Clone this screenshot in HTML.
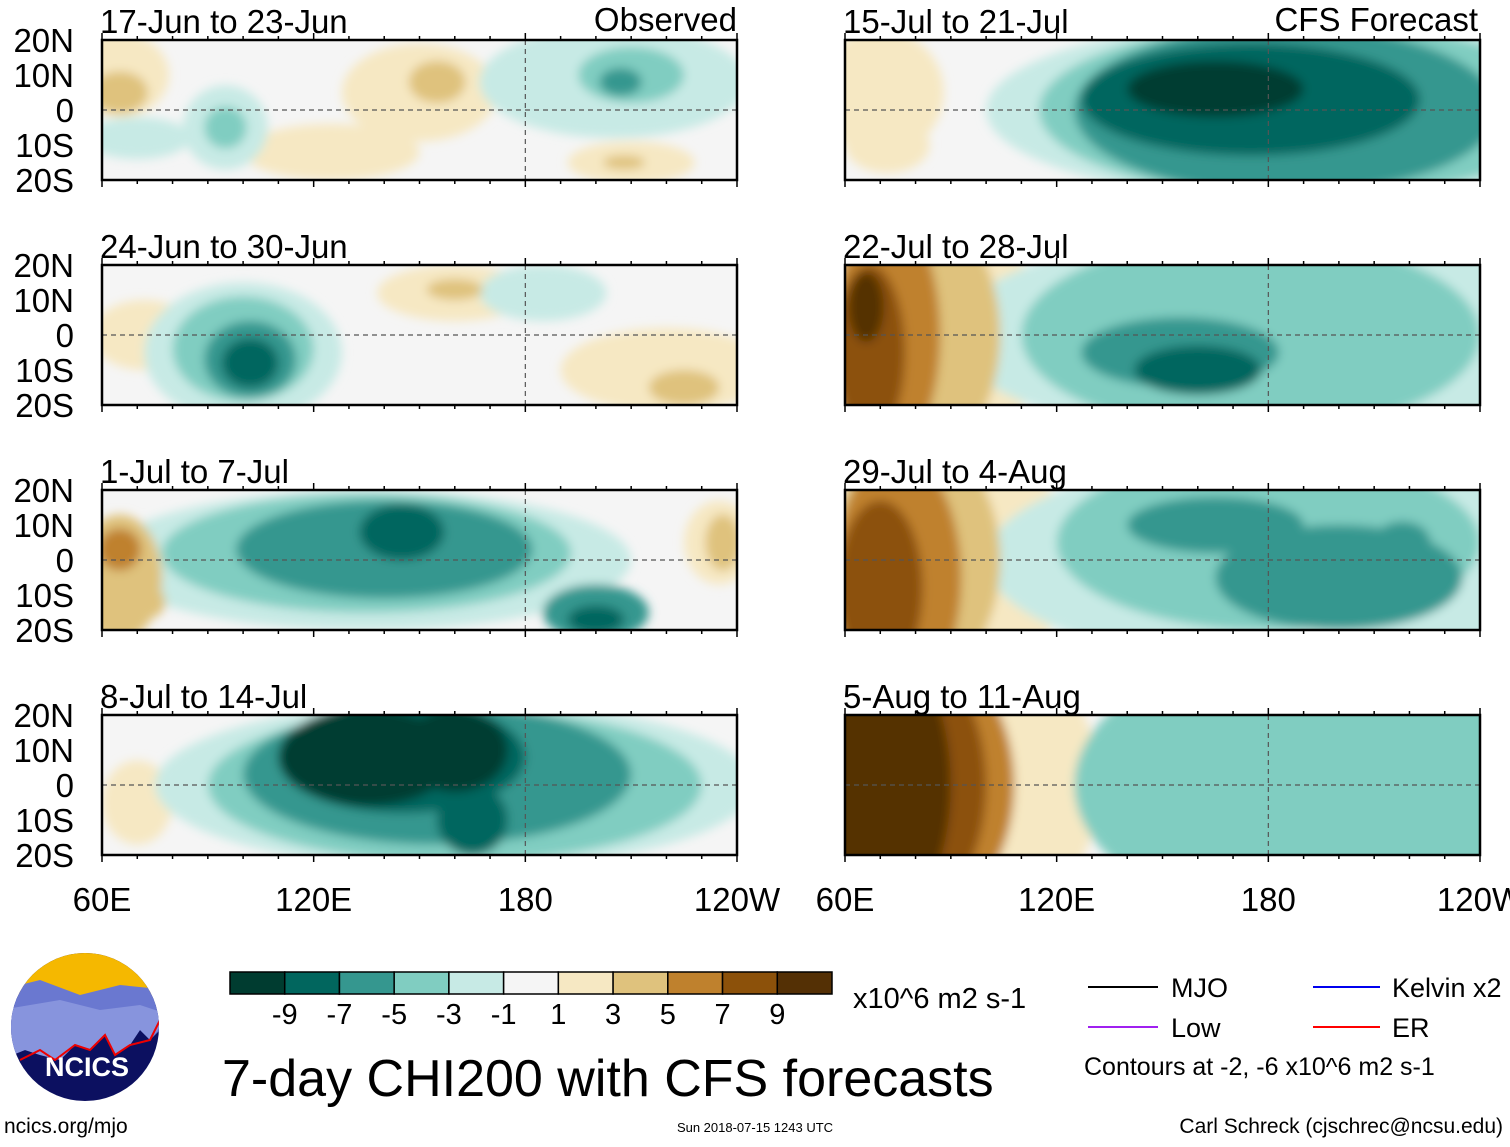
<!DOCTYPE html>
<html><head><meta charset="utf-8"><style>
body{margin:0;background:#fff;width:1510px;height:1142px;overflow:hidden;font-family:"Liberation Sans",sans-serif}
svg text{font-family:"Liberation Sans",sans-serif}
</style></head><body>
<svg id="fig" width="1510" height="1142" viewBox="0 0 1510 1142" xmlns="http://www.w3.org/2000/svg">
<defs><filter id="bl" x="-10%" y="-10%" width="120%" height="120%"><feGaussianBlur stdDeviation="5"/></filter></defs>
</svg>
<script>
// colour levels (-9 ... 9 bins)
const levelColors=["#003c30","#01665e","#35978f","#80cdc1","#c7eae5","#f5f5f5","#f6e8c3","#dfc27d","#bf812d","#8c510a","#543005"];
const levelLabels=["-9","-7","-5","-3","-1","1","3","5","7","9"];
const panelTitles=["17-Jun to 23-Jun","24-Jun to 30-Jun","1-Jul to 7-Jul","8-Jul to 14-Jul","15-Jul to 21-Jul","22-Jul to 28-Jul","29-Jul to 4-Aug","5-Aug to 11-Aug"];
const latTicks=["20N","10N","0","10S","20S"];
const latVals=[20,10,0,-10,-20];
const lonTicks=["60E","120E","180","120W"];
const lonVals=[60,120,180,240];
// anomaly blobs per panel: [lon, lat, lonRadius, latRadius, levelIndex]
const blobs0=[[65,10,14,12,6],[150,5,22,14,6],[155,8,8,6,7],[125,-12,25,8,6],[210,-15,18,6,6],[208,-15,6,2,7],[205,8,38,16,4],[210,10,15,8,3],[207,8,6,4,2],[95,-5,12,12,4],[95,-5,6,6,3],[70,-8,15,6,4],[65,5,8,6,7]];
const blobs1=[[160,12,22,8,6],[160,13,8,3,7],[220,-10,30,12,6],[225,-15,10,5,7],[72,0,15,10,6],[100,-5,28,20,4],[100,-4,20,15,3],[102,-7,13,11,2],[102,-8,8,7,1],[185,12,18,8,4]];
const blobs2=[[65,-5,12,18,7],[65,3,6,6,8],[72,-12,6,5,7],[135,0,75,20,4],[135,2,58,17,3],[140,3,42,14,2],[145,8,12,8,1],[200,-15,15,8,2],[200,-17,8,4,1],[235,5,10,12,6],[236,5,5,8,7]];
const blobs3=[[70,-5,10,12,6],[160,0,85,24,4],[160,0,70,22,3],[155,3,55,20,2],[145,8,35,16,1],[135,8,25,14,0],[160,10,15,12,0],[165,-10,10,10,1],[80,-5,8,8,5]];
const blobs4=[[70,5,18,18,6],[72,-10,12,8,6],[190,0,90,26,4],[190,0,75,25,3],[185,0,60,24,2],[175,3,48,16,1],[165,6,25,8,0],[225,5,8,5,3]];
const blobs5=[[90,0,25,35,6],[82,0,22,35,7],[72,0,15,35,8],[67,-5,10,25,9],[66,8,5,10,10],[180,0,90,30,4],[175,0,65,28,3],[155,-5,28,10,2],[160,-10,18,7,1]];
const blobs6=[[95,0,28,35,6],[80,0,24,35,7],[75,-5,18,35,8],[70,-8,12,25,9],[185,0,85,30,4],[180,5,60,25,3],[165,10,25,8,2],[200,-5,35,15,2],[218,5,8,6,2]];
const blobs7=[[100,0,32,40,6],[78,0,30,40,8],[74,0,26,40,9],[70,0,20,40,10],[195,0,70,40,3],[165,-12,25,15,4],[235,0,20,40,3]];
const allBlobs=[blobs0,blobs1,blobs2,blobs3,blobs4,blobs5,blobs6,blobs7];

const NS="http://www.w3.org/2000/svg";
const svg=document.getElementById('fig');
function mk(tag,attrs,parent){const e=document.createElementNS(NS,tag);for(const k in attrs)e.setAttribute(k,attrs[k]);(parent||svg).appendChild(e);return e;}
const colX=[102,845], rowY=[40,265,490,715], PW=635, PH=140;
function panelGeom(i){return {x0:colX[i<4?0:1], y0:rowY[i%4]};}
function xScale(g,lon){return g.x0+(lon-60)*PW/180;}
function yScale(g,lat){return g.y0+(20-lat)*PH/40;}

allBlobs.forEach((bl,i)=>{
  const g=panelGeom(i);
  const grp=mk('g',{});
  
  
  const cp=mk('clipPath',{id:'cp'+i},grp);
  mk('rect',{x:g.x0,y:g.y0,width:PW,height:PH},cp);
  const inner=mk('g',{'clip-path':'url(#cp'+i+')'},grp);
  mk('rect',{x:g.x0,y:g.y0,width:PW,height:PH,fill:levelColors[5]},inner);
  const fl=mk('g',{filter:'url(#bl)'},inner);
  bl.slice().sort((a,b)=>Math.abs(a[4]-5)-Math.abs(b[4]-5)).forEach(b=>{
    const e=mk('ellipse',{cx:xScale(g,b[0]),cy:yScale(g,b[1]),rx:b[2]*PW/180,ry:b[3]*PH/40,fill:levelColors[b[4]]},fl);
    
    
  });
  mk('line',{x1:g.x0,x2:g.x0+PW,y1:yScale(g,0),y2:yScale(g,0),stroke:'#555','stroke-dasharray':'5,4','stroke-width':1.2},inner);
  mk('line',{x1:xScale(g,180),x2:xScale(g,180),y1:g.y0,y2:g.y0+PH,stroke:'#555','stroke-dasharray':'5,4','stroke-width':1.2},inner);
  mk('rect',{x:g.x0,y:g.y0,width:PW,height:PH,fill:'none',stroke:'#000','stroke-width':2.5},grp);
  for(let lon=60;lon<=240;lon+=10){const x=xScale(g,lon);const L=(lon%60==0)?7:4;
    mk('line',{x1:x,x2:x,y1:g.y0,y2:g.y0-L,stroke:'#000','stroke-width':1.5},grp);
    mk('line',{x1:x,x2:x,y1:g.y0+PH,y2:g.y0+PH+L,stroke:'#000','stroke-width':1.5},grp);}
  const t=mk('text',{x:g.x0-2,y:g.y0-7,'font-size':33},grp);t.textContent=panelTitles[i];
  
  if(i<4){latVals.forEach((v,k)=>{const tt=mk('text',{x:74,y:yScale(g,v)+12,'font-size':33,'text-anchor':'end'},grp);tt.textContent=latTicks[k];
    });}
});
let ob=mk('text',{x:737,y:31,'font-size':33,'text-anchor':'end'});ob.textContent='Observed';

let cf=mk('text',{x:1478,y:31,'font-size':33,'text-anchor':'end'});cf.textContent='CFS Forecast';

[0,4].forEach(i=>{const g=panelGeom(i);lonVals.forEach((v,k)=>{const tt=mk('text',{x:xScale(g,v),y:911,'font-size':33,'text-anchor':'middle'});tt.textContent=lonTicks[k];
  });});
// colorbar
const cbX=230,cbW=602/11;
levelColors.forEach((c,k)=>{const r=mk('rect',{x:cbX+k*cbW,y:972,width:cbW,height:22,fill:c,stroke:'#000','stroke-width':1.5});
  });
levelLabels.forEach((l,k)=>{const tt=mk('text',{x:cbX+(k+1)*cbW,y:1024,'font-size':29,'text-anchor':'middle'});tt.textContent=l;
  });
</script>
<svg style="position:absolute;left:0;top:0" width="1510" height="1142">
<text x="853" y="1008" font-size="29">x10^6 m2 s-1</text>
<text x="222" y="1096" font-size="52">7-day CHI200 with CFS forecasts</text>
<g>
<line x1="1088" x2="1158" y1="987" y2="987" stroke="#000" stroke-width="2"/><text x="1171" y="997" font-size="27">MJO</text>
<line x1="1313" x2="1380" y1="987" y2="987" stroke="#0000ee" stroke-width="2"/><text x="1392" y="997" font-size="27">Kelvin x2</text>
<line x1="1088" x2="1158" y1="1027" y2="1027" stroke="#a020f0" stroke-width="2"/><text x="1171" y="1037" font-size="27">Low</text>
<line x1="1313" x2="1380" y1="1027" y2="1027" stroke="#ff0000" stroke-width="2"/><text x="1392" y="1037" font-size="27">ER</text>
<text x="1084" y="1075" font-size="25">Contours at -2, -6 x10^6 m2 s-1</text>
</g>
<text x="1503" y="1133" font-size="21" text-anchor="end">Carl Schreck (cjschrec@ncsu.edu)</text>
<text x="4" y="1133" font-size="21">ncics.org/mjo</text>
<text x="755" y="1132" font-size="13" text-anchor="middle">Sun 2018-07-15 1243 UTC</text>
<g>
<clipPath id="lc"><ellipse cx="85" cy="1027" rx="74" ry="74"/></clipPath>
<g clip-path="url(#lc)">
<rect x="0" y="950" width="170" height="160" fill="#0c1060"/>
<rect x="0" y="950" width="170" height="45" fill="#f5b800"/>
<path d="M0,990 L40,980 L80,995 L120,985 L170,990 L170,1020 L150,1040 L140,1030 L130,1045 L115,1055 L105,1035 L90,1050 L75,1045 L60,1060 L40,1055 L25,1050 L0,1060Z" fill="#6a78d0"/>
<path d="M0,1010 L60,1000 L100,1010 L140,1005 L170,1015 L150,1040 L140,1030 L130,1045 L115,1055 L105,1035 L90,1050 L75,1045 L60,1060 L40,1055 L25,1050 L0,1060Z" fill="#8f9be0" opacity="0.8"/>
<path d="M20,1060 L40,1050 L55,1060 L75,1045 L90,1050 L105,1035 L115,1055 L130,1045 L150,1040 L160,1020" stroke="#e00" stroke-width="2" fill="none"/>
</g>
<text x="87" y="1076" font-size="27" font-weight="bold" fill="#fff" text-anchor="middle">NCICS</text>
</g>
</svg>
</body></html>
